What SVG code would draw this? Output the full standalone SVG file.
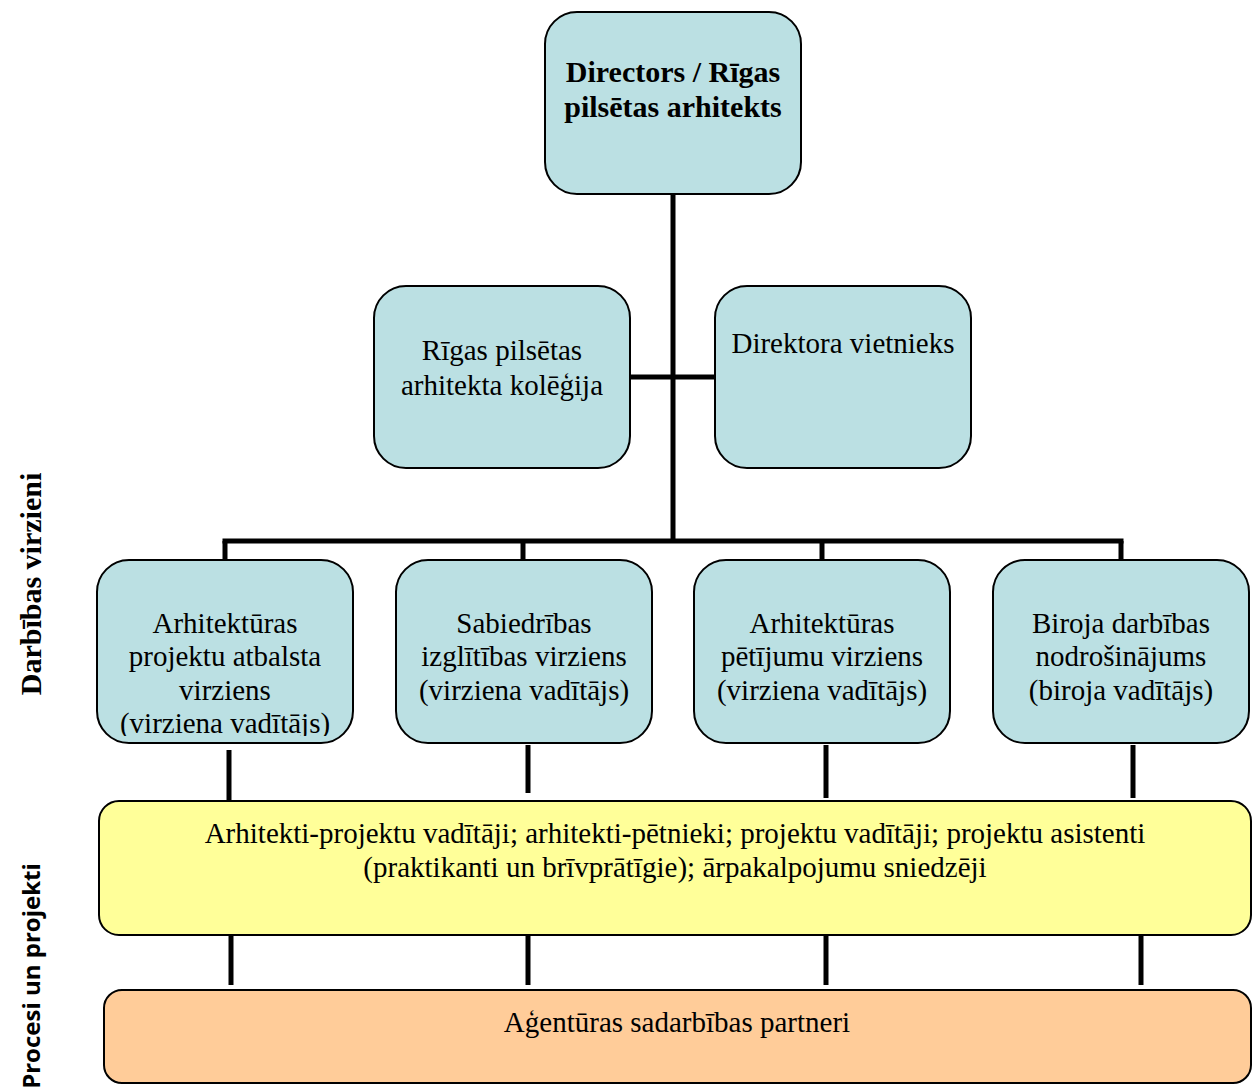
<svg xmlns="http://www.w3.org/2000/svg" width="1252" height="1089" viewBox="0 0 1252 1089">
<style>
.b{fill:#BBE0E3;stroke:#000;stroke-width:2}
.y{fill:#FFFF99;stroke:#000;stroke-width:2}
.o{fill:#FFCC99;stroke:#000;stroke-width:2}
.t{font-family:"Liberation Serif","Times New Roman",serif;font-size:29px;fill:#000;text-anchor:middle}
.tb{font-family:"Liberation Serif","Times New Roman",serif;font-size:30px;font-weight:bold;fill:#000;text-anchor:middle}
.ts{font-family:"Open Sans","Noto Sans",sans-serif;font-size:24px;font-weight:bold;fill:#000;text-anchor:middle}
.c line{stroke:#000;stroke-width:5}
</style>
<defs>
<clipPath id="clip1"><rect x="97" y="560" width="256" height="176"/></clipPath>
</defs>
<g class="c" id="connectors">
<line x1="673" y1="194" x2="673" y2="543"/>
<line x1="630" y1="377" x2="715" y2="377"/>
<line x1="222.5" y1="541" x2="1123.5" y2="541"/>
<line x1="225" y1="541" x2="225" y2="560"/>
<line x1="523" y1="541" x2="523" y2="560"/>
<line x1="822" y1="541" x2="822" y2="560"/>
<line x1="1121" y1="541" x2="1121" y2="560"/>
<line x1="229" y1="750" x2="229" y2="801"/>
<line x1="528" y1="745" x2="528" y2="793"/>
<line x1="826" y1="745" x2="826" y2="798"/>
<line x1="1133" y1="745" x2="1133" y2="798"/>
<line x1="231" y1="935" x2="231" y2="985"/>
<line x1="528" y1="935" x2="528" y2="985"/>
<line x1="826" y1="935" x2="826" y2="985"/>
<line x1="1141" y1="935" x2="1141" y2="985"/>
</g>
<g id="director">
<rect class="b" x="545" y="12" width="256" height="182" rx="32"/>
<text class="tb" x="673" y="82">Directors / Rīgas</text>
<text class="tb" x="673" y="117">pilsētas arhitekts</text>
</g>
<g id="kolegija">
<rect class="b" x="374" y="286" width="256" height="182" rx="32"/>
<text class="t" x="502" y="360">Rīgas pilsētas</text>
<text class="t" x="502" y="395">arhitekta kolēģija</text>
</g>
<g id="vietnieks">
<rect class="b" x="715" y="286" width="256" height="182" rx="32"/>
<text class="t" x="843" y="353">Direktora vietnieks</text>
</g>
<g id="virziens1">
<rect class="b" x="97" y="560" width="256" height="183" rx="32"/>
<g clip-path="url(#clip1)">
<text class="t" x="225" y="633">Arhitektūras</text>
<text class="t" x="225" y="666">projektu atbalsta</text>
<text class="t" x="225" y="700">virziens</text>
<text class="t" x="225" y="733">(virziena vadītājs)</text>
</g>
</g>
<g id="virziens2">
<rect class="b" x="396" y="560" width="256" height="183" rx="32"/>
<text class="t" x="524" y="633">Sabiedrības</text>
<text class="t" x="524" y="666">izglītības virziens</text>
<text class="t" x="524" y="700">(virziena vadītājs)</text>
</g>
<g id="virziens3">
<rect class="b" x="694" y="560" width="256" height="183" rx="32"/>
<text class="t" x="822" y="633">Arhitektūras</text>
<text class="t" x="822" y="666">pētījumu virziens</text>
<text class="t" x="822" y="700">(virziena vadītājs)</text>
</g>
<g id="virziens4">
<rect class="b" x="993" y="560" width="256" height="183" rx="32"/>
<text class="t" x="1121" y="633">Biroja darbības</text>
<text class="t" x="1121" y="666">nodrošinājums</text>
<text class="t" x="1121" y="700">(biroja vadītājs)</text>
</g>
<g id="procesi">
<rect class="y" x="99" y="801" width="1152" height="134" rx="20"/>
<text class="t" x="675" y="843">Arhitekti-projektu vadītāji; arhitekti-pētnieki; projektu vadītāji; projektu asistenti</text>
<text class="t" x="675" y="877">(praktikanti un brīvprātīgie); ārpakalpojumu sniedzēji</text>
</g>
<g id="partneri">
<rect class="o" x="104" y="990" width="1147" height="93" rx="18"/>
<text class="t" x="677" y="1032">Aģentūras sadarbības partneri</text>
</g>
<g id="labels">
<text class="tb" transform="translate(41,584) rotate(-90)">Darbības virzieni</text>
<text class="ts" transform="translate(40,976) rotate(-90)">Procesi un projekti</text>
</g>
</svg>
